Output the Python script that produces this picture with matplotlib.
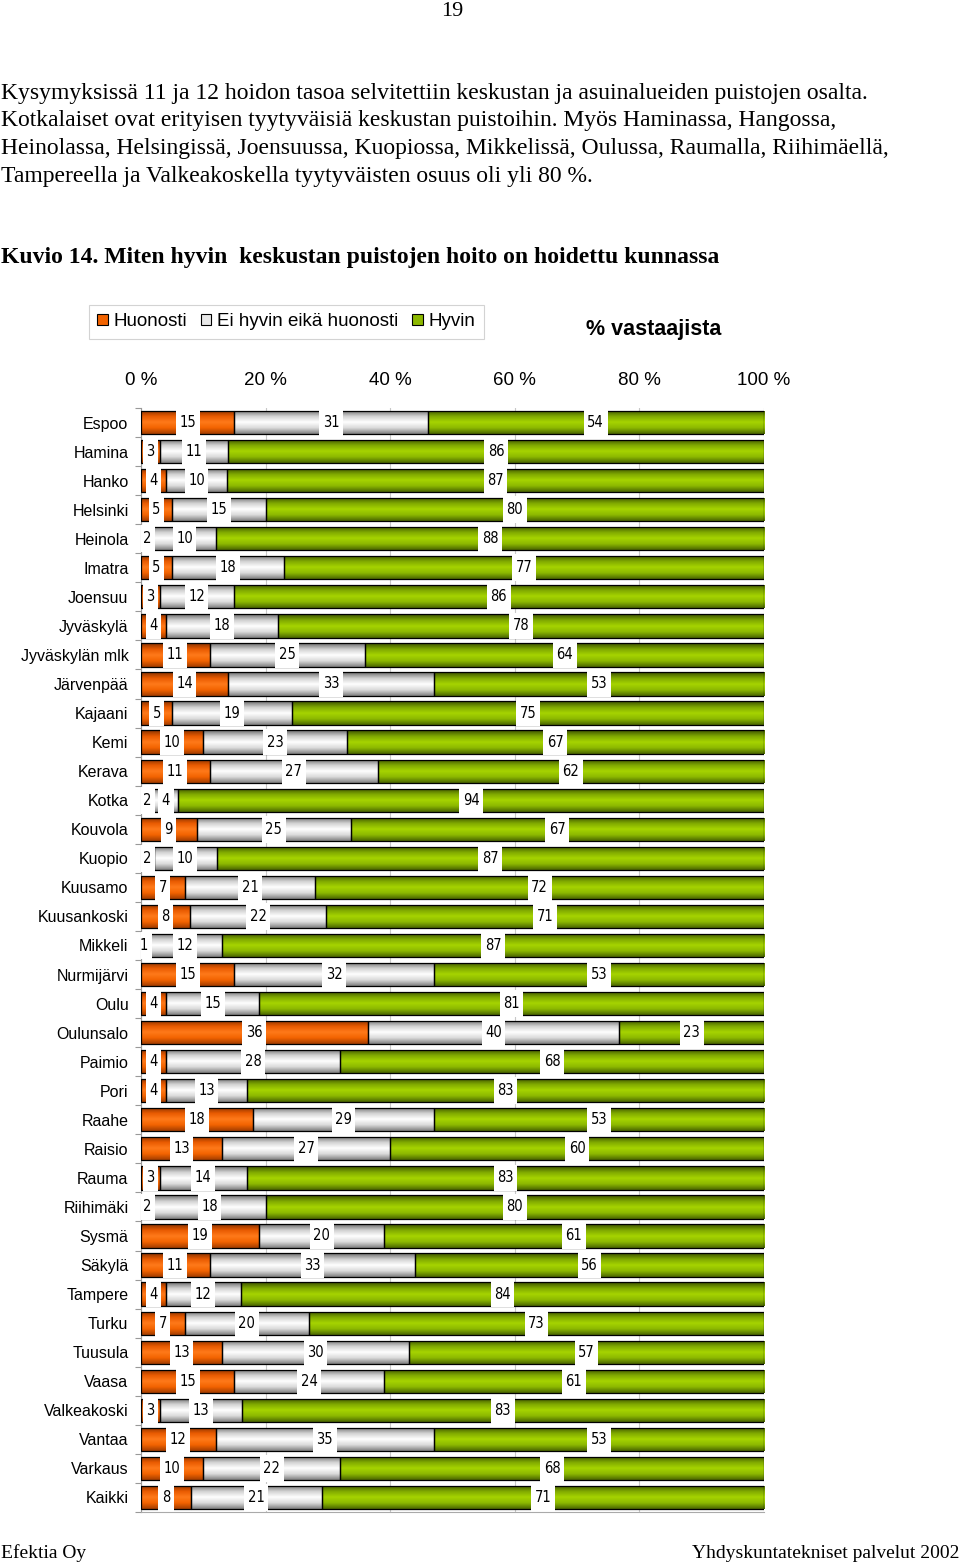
import numpy as np
import matplotlib
matplotlib.use("Agg")
import matplotlib.pyplot as plt
from matplotlib import font_manager
from matplotlib.colors import LinearSegmentedColormap
from matplotlib.patches import Patch, Rectangle

# data (% of respondents)
cities = ["Espoo", "Hamina", "Hanko", "Helsinki", "Heinola", "Imatra", "Joensuu",
          "Jyväskylä", "Jyväskylän mlk", "Järvenpää", "Kajaani", "Kemi", "Kerava",
          "Kotka", "Kouvola", "Kuopio", "Kuusamo", "Kuusankoski", "Mikkeli",
          "Nurmijärvi", "Oulu", "Oulunsalo", "Paimio", "Pori", "Raahe", "Raisio",
          "Rauma", "Riihimäki", "Sysmä", "Säkylä", "Tampere", "Turku", "Tuusula",
          "Vaasa", "Valkeakoski", "Vantaa", "Varkaus", "Kaikki"]
huonosti = [15, 3, 4, 5, 2, 5, 3, 4, 11, 14, 5, 10, 11, 2, 9, 2, 7, 8, 1, 15, 4, 36,
            4, 4, 18, 13, 3, 2, 19, 11, 4, 7, 13, 15, 3, 12, 10, 8]
ei_kumpikaan = [31, 11, 10, 15, 10, 18, 12, 18, 25, 33, 19, 23, 27, 4, 25, 10, 21, 22,
                12, 32, 15, 40, 28, 13, 29, 27, 14, 18, 20, 33, 12, 20, 30, 24, 13, 35,
                22, 21]
hyvin = [54, 86, 87, 80, 88, 77, 86, 78, 64, 53, 75, 67, 62, 94, 67, 87, 72, 71, 87,
         53, 81, 23, 68, 83, 53, 60, 83, 80, 61, 56, 84, 73, 57, 61, 83, 53, 68, 71]
series_names = ["Huonosti", "Ei hyvin eikä huonosti", "Hyvin"]
x_ticks = [0, 20, 40, 60, 80, 100]

paragraph = ["Kysymyksissä 11 ja 12 hoidon tasoa selvitettiin keskustan ja asuinalueiden puistojen osalta.",
             "Kotkalaiset ovat erityisen tyytyväisiä keskustan puistoihin. Myös Haminassa, Hangossa,",
             "Heinolassa, Helsingissä, Joensuussa, Kuopiossa, Mikkelissä, Oulussa, Raumalla, Riihimäellä,",
             "Tampereella ja Valkeakoskella tyytyväisten osuus oli yli 80 %."]

W, H = 960, 1564
fig = plt.figure(figsize=(W / 100, H / 100), dpi=100)

def fy(py):
    return 1 - py / H

serif = "Liberation Serif"
sans = "Liberation Sans"

# condensed font for the value labels, if one is installed
narrow_file = None
for f in font_manager.fontManager.ttflist:
    if f.name == "Liberation Sans Narrow" and f.weight in (400, "normal") and f.style == "normal":
        narrow_file = f.fname
        break
if narrow_file is None:
    for f in font_manager.fontManager.ttflist:
        if f.name == "DejaVu Sans" and f.stretch == "condensed" and f.weight in (400, "normal") \
                and f.style == "normal":
            narrow_file = f.fname
            break
if narrow_file:
    label_font = font_manager.FontProperties(fname=narrow_file, size=10.5)
else:
    label_font = font_manager.FontProperties(family=sans, size=9.5)

# page text
fig.text(452 / W, fy(11), "19", ha="center", va="center", family=serif, fontsize=16)
for i, line in enumerate(paragraph):
    fig.text(0.001, fy(93 + i * 27.7), line, ha="left", va="center", family=serif, fontsize=17)
fig.text(0.001, fy(257), "Kuvio 14. Miten hyvin  keskustan puistojen hoito on hoidettu kunnassa",
         ha="left", va="center", family=serif, fontsize=17, fontweight="bold")
fig.text(586 / W, fy(329), "% vastaajista", ha="left", va="center", family=sans,
         fontsize=15.5, fontweight="bold")
fig.text(0.001, fy(1553), "Efektia Oy", ha="left", va="center", family=serif, fontsize=14)
fig.text(0.999, fy(1553), "Yhdyskuntatekniset palvelut 2002", ha="right", va="center",
         family=serif, fontsize=14)

ax = fig.add_axes([141 / W, fy(1512), (764 - 141) / W, (1512 - 408) / H])

colors = ["#ff6a0a", "#f2f2f2", "#99cc00"]
grads = [
    LinearSegmentedColormap.from_list("o", ["#8a3300", "#e85a00", "#ff7a1a", "#f26300", "#a33d00"]),
    LinearSegmentedColormap.from_list("g", ["#6e6e6e", "#d0d0d0", "#ffffff", "#dadada", "#7e7e7e"]),
    LinearSegmentedColormap.from_list("v", ["#3d5200", "#7fa800", "#a6d400", "#8cb800", "#4a6600"]),
]
gradient = np.linspace(0, 1, 64).reshape(-1, 1)

data = np.array([huonosti, ei_kumpikaan, hyvin], dtype=float)
totals = data.sum(axis=0)
shares = data / totals * 100
y = np.arange(len(cities))
bar_h = 0.8

labels = []
left = np.zeros(len(cities))
for k in range(3):
    bars = ax.barh(y, shares[k], left=left, height=bar_h, color=colors[k],
                   edgecolor="black", linewidth=0.9, zorder=3)
    for p in bars:
        x0, y0 = p.get_x(), p.get_y()
        w, h = p.get_width(), p.get_height()
        im = ax.imshow(gradient, cmap=grads[k], aspect="auto", interpolation="bilinear",
                       extent=(x0, x0 + w, y0 + h, y0), zorder=3.1)
        im.set_clip_path(p)
        p.set_facecolor("none")
        p.set_zorder(3.5)
    centers = left + shares[k] / 2
    for yi, cx, v in zip(y, centers, data[k]):
        t = ax.text(cx, yi, f"{int(v)}", ha="center", va="center",
                    fontproperties=label_font, zorder=5)
        labels.append((t, cx, yi))
    left = left + shares[k]

ax.set_xlim(0, 100)
ax.set_ylim(len(cities) - 0.5, -0.5)
ax.set_yticks(y)
ax.set_yticklabels(cities, family=sans, fontsize=11.5)
ax.set_yticks(np.arange(len(cities) + 1) - 0.5, minor=True)
ax.tick_params(axis="y", which="major", length=0, pad=9)
ax.tick_params(axis="y", which="minor", length=4, color="#999999", width=0.8)
ax.xaxis.tick_top()
ax.set_xticks(x_ticks)
ax.set_xticklabels([f"{t} %" for t in x_ticks], family=sans, fontsize=13.5)
ax.tick_params(axis="x", length=0, pad=14)
ax.grid(axis="x", color="#c8c8c8", linewidth=0.8, zorder=0)
ax.set_axisbelow(True)
for s in ["top", "right"]:
    ax.spines[s].set_visible(False)
ax.spines["left"].set_color("#999999")
ax.spines["bottom"].set_color("#aaaaaa")

# white boxes behind the value labels: narrow, full bar height
fig.canvas.draw()
renderer = fig.canvas.get_renderer()
px_per_unit = ax.bbox.width / 100
for t, cx, yi in labels:
    bb = t.get_window_extent(renderer)
    wd = (bb.width + 7) / px_per_unit
    ax.add_patch(Rectangle((cx - wd / 2, yi - 0.46), wd, 0.92, facecolor="white",
                           edgecolor="none", zorder=4.5))

handles = [Patch(facecolor=c, edgecolor="black", linewidth=0.8) for c in
           ["#f26300", "#e8e8e8", "#8cb800"]]
leg = fig.legend(handles, series_names, loc="upper left", ncol=3,
                 bbox_to_anchor=(89 / W, fy(305)), bbox_transform=fig.transFigure,
                 borderaxespad=0, frameon=True, fancybox=False, handlelength=0.55,
                 handleheight=0.55, handletextpad=0.3, columnspacing=0.75,
                 borderpad=0.45, prop={"family": sans, "size": 13.5})
leg.get_frame().set_edgecolor("#c8c8c8")
leg.get_frame().set_linewidth(0.8)

fig.savefig("out.png", dpi=100)
